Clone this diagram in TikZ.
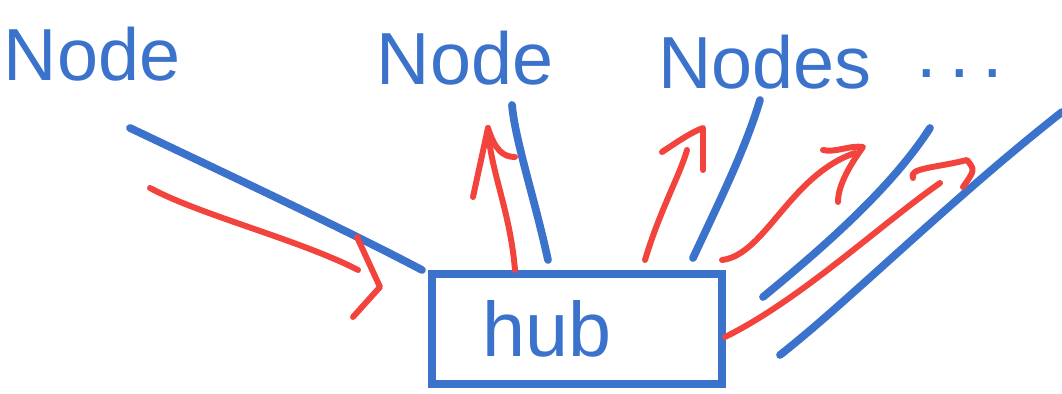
\documentclass[tikz,border=0pt]{standalone}
\usepackage{fontspec}
\setmainfont{Liberation Sans}
\definecolor{penblue}{HTML}{3B72CB}
\definecolor{penred}{HTML}{F2433C}
\begin{document}
\begin{tikzpicture}[x=0.02cm,y=-0.02cm,
  blueline/.style={draw=penblue,line width=4.4pt,line cap=round,line join=round},
  redline/.style={draw=penred,line width=3.4pt,line cap=round,line join=round},
  label/.style={text=penblue,font=\fontsize{42}{48}\selectfont,inner sep=0pt},
  hubbox/.style={draw=penblue,line width=4.4pt,minimum width=5.8cm,minimum height=2.2cm,
    text=penblue,font=\fontsize{44}{50}\selectfont}]
\useasboundingbox (0,0) rectangle (1062,394);
% labels
\node[label] (n1) at (92,54) {Node};
\node[label] (n2) at (465,58) {Node};
\node[label] (n3) at (765,62) {Nodes};
\node[label] (dots) at (960,74) {.\,.\,.};
% hub
\node[hubbox] (hub) at (577,329) {\hspace*{-34pt}hub};
% endpoints
\coordinate (b1s) at (130,128); \coordinate (b1e) at (422,270);
\coordinate (b2s) at (512,105); \coordinate (b2e) at (548,260);
\coordinate (b3s) at (760,100); \coordinate (b3e) at (693,258);
\coordinate (b4s) at (930,128); \coordinate (b4e) at (763,297);
\coordinate (b5s) at (1062,112); \coordinate (b5e) at (780,355);
% blue lines
\draw[blueline] (b1s) .. controls (250,185) and (350,232) .. (b1e);
\draw[blueline] (b2e) .. controls (535,200) and (515,140) .. (b2s);
\draw[blueline] (b3e) .. controls (720,200) and (745,150) .. (b3s);
\draw[blueline] (b4e) .. controls (820,250) and (890,190) .. (b4s);
\draw[blueline] (b5e) .. controls (850,300) and (950,200) .. (b5s);
% red arrow 1 (into hub)
\coordinate (r1s) at (150,188); \coordinate (r1e) at (358,270);
\draw[redline] (r1s) .. controls (200,215) and (300,240) .. (r1e);
\draw[redline] (357,237) -- (380,287) -- (353,317);
% red arrow 2 (up)
\coordinate (r2s) at (515,270); \coordinate (r2t) at (488,128);
\draw[redline] (r2s) .. controls (510,210) and (490,170) .. (r2t);
\draw[redline] (473,197) -- (r2t) .. controls (495,150) and (503,157) .. (515,157);
% red arrow 3
\coordinate (r3s) at (645,260); \coordinate (r3t) at (703,128);
\draw[redline] (r3s) .. controls (660,210) and (680,175) .. (687,150);
\draw[redline] (662,152) .. controls (680,140) and (692,132) .. (r3t) -- (703,170);
% red arrow 4
\coordinate (r4s) at (722,260); \coordinate (r4t) at (863,147);
\draw[redline] (r4s) .. controls (765,255) and (790,175) .. (855,153);
\draw[redline] (823,150) .. controls (835,153) and (850,145) .. (r4t) .. controls (850,165) and (838,185) .. (838,202);
% red arrow 5
\coordinate (r5s) at (725,337); \coordinate (r5e) at (940,183);
\draw[redline] (r5s) .. controls (800,300) and (880,225) .. (r5e);
\draw[redline] (913,178) .. controls (908,168) and (935,168) .. (967,160) .. controls (975,170) .. (963,187);
\end{tikzpicture}
\end{document}
